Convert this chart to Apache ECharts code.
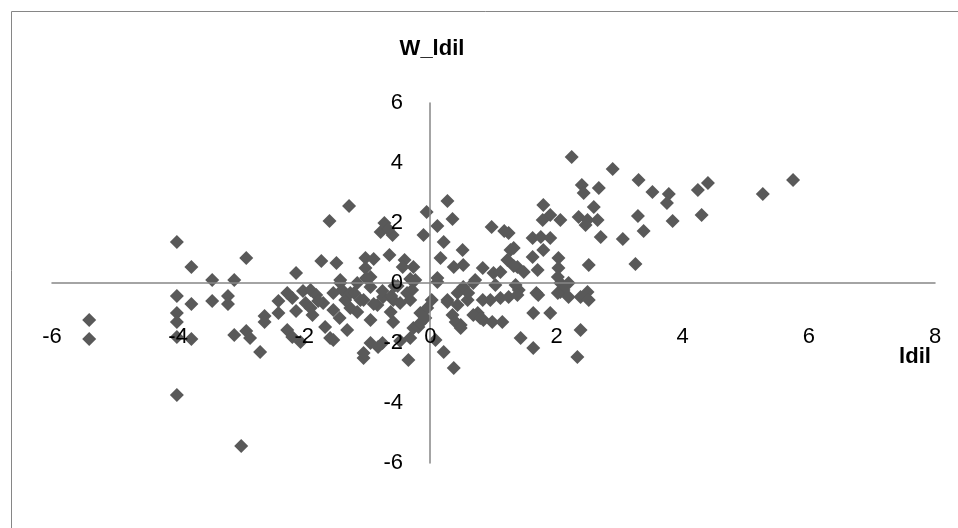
<!DOCTYPE html>
<html>
<head>
<meta charset="utf-8">
<title>W_ldil vs ldil</title>
<script src="https://cdn.jsdelivr.net/npm/echarts@6/dist/echarts.min.js"></script>
<style>
  html, body { margin: 0; padding: 0; background: #fff; }
  #chart { width: 958px; height: 528px; }
</style>
</head>
<body>
<div id="chart"></div>
<script>
// tick labels
var xTicks = [-6, -4, -2, 0, 2, 4, 6, 8];
var yTicks = [-6, -4, -2, 0, 2, 4, 6];

// [ldil, W_ldil]
var points = [
  [-5.41, -1.23], [-5.41, -1.87], [-4.02, 1.37], [-3.79, 0.53], [-3.46, 0.10],
  [-3.11, 0.10], [-2.92, 0.83], [-4.02, -0.43], [-3.79, -0.70], [-3.46, -0.60],
  [-3.21, -0.43], [-3.21, -0.70], [-4.02, -1.00], [-4.02, -1.30], [-4.02, -1.80],
  [-3.79, -1.87], [-3.11, -1.73], [-2.92, -1.60], [-2.86, -1.83], [-2.70, -2.30],
  [-4.02, -3.73], [-3.00, -5.43],
  [-2.63, -1.10], [-2.63, -1.30], [-2.41, -0.60], [-2.41, -1.00], [-2.19, -0.50],
  [-2.13, 0.33], [-2.02, -0.27], [-1.90, -0.23], [-1.98, -0.67], [-1.90, -0.83],
  [-1.87, -1.07], [-2.27, -1.57], [-2.19, -1.80], [-2.06, -1.97], [-1.67, -1.47],
  [-1.59, -1.83], [-1.32, -1.57], [-1.73, 0.73], [-1.49, 0.67], [-1.60, 2.07],
  [-1.29, 2.57], [-1.54, -0.33], [-1.40, -0.23], [-1.70, -0.67], [-1.54, -0.90],
  [-1.27, -0.83], [-1.16, -0.97], [-1.43, 0.10], [-1.81, -0.40], [-1.35, -0.57],
  [-0.73, 2.00], [-0.79, 1.70], [-0.60, 1.60], [-0.67, 1.80], [-0.06, 2.37],
  [-0.11, 1.60], [-0.65, 0.93], [-1.03, 0.83], [-0.90, 0.80], [-1.03, 0.50],
  [-0.41, 0.77], [-0.27, 0.53], [-0.44, 0.53], [-0.95, 0.20], [-0.32, 0.13],
  [-1.02, 0.17], [-1.16, 0.00], [-1.43, 0.00], [-1.27, -0.33], [-0.95, -0.13],
  [-0.95, -1.23], [-0.59, -1.30], [-1.54, -1.90], [-0.95, -2.00], [-0.76, -2.00],
  [-1.06, -2.50], [-1.06, -2.33], [-0.35, -2.57], [-0.32, -1.83], [-0.27, -1.50],
  [-0.19, -1.47], [-0.16, -1.00], [-0.05, -0.83], [-0.75, -0.47], [-0.59, -0.57],
  [-0.37, -0.33], [-0.29, -0.23], [-0.48, -0.67], [-0.32, -0.57], [-0.52, -0.10],
  [-0.24, 0.10], [-0.48, -1.93], [-0.16, -1.33], [-0.83, -2.13], [-1.06, -0.57],
  [-0.84, -0.73], [-0.63, -0.97],
  [0.27, 2.73], [0.35, 2.13], [0.11, 1.90], [0.21, 1.37], [0.51, 1.10],
  [0.16, 0.83], [0.37, 0.53], [0.52, 0.60], [0.83, 0.50], [0.97, 1.87],
  [0.71, 0.10], [0.11, 0.17], [0.11, 0.03], [0.08, -1.90], [0.21, -2.30],
  [0.37, -2.83], [0.27, -0.57], [0.43, -0.33], [0.59, -0.57], [0.52, -0.13],
  [0.68, 0.00], [0.48, -1.40], [0.75, -1.00], [0.84, -1.23], [1.24, 1.67],
  [1.03, -0.07], [1.35, -0.07], [1.40, -0.23], [1.00, 0.33], [1.11, 0.37],
  [1.22, 0.77], [1.38, 0.53], [1.48, 0.37], [1.32, 1.17], [1.62, 0.87],
  [1.70, 0.43], [1.62, 1.50], [1.75, 1.53], [1.90, 1.50], [1.79, 1.10],
  [1.79, 2.60], [1.90, 2.27], [1.78, 2.10], [2.06, 2.10], [2.35, 2.20],
  [2.46, 1.93], [2.59, 2.53], [2.65, 2.10], [2.03, 0.83], [2.03, 0.50],
  [2.02, 0.20], [2.06, 0.00], [2.19, 0.00], [2.51, 0.60], [1.68, -0.33],
  [2.38, -0.47], [2.49, -0.30], [0.60, -0.33], [0.27, -0.63], [0.43, -0.73],
  [0.35, -1.07], [0.40, -1.30], [0.48, -1.50], [0.68, -1.07], [0.79, -1.17],
  [0.98, -1.30], [1.14, -1.30], [0.83, -0.57], [0.95, -0.57], [1.11, -0.50],
  [1.24, -0.47], [1.38, -0.40], [1.71, -0.40], [1.63, -1.00], [1.90, -1.00],
  [1.43, -1.83], [1.63, -2.17], [2.06, -0.30], [2.19, -0.47], [2.51, -0.57],
  [2.38, -1.57], [2.33, -2.47],
  [2.24, 4.20], [2.89, 3.80], [2.40, 3.27], [2.43, 3.00], [2.67, 3.17],
  [3.30, 3.43], [3.52, 3.03], [3.78, 2.97], [3.75, 2.67], [4.24, 3.10],
  [4.40, 3.33], [2.49, 2.10], [3.29, 2.23], [3.84, 2.07], [4.30, 2.27],
  [2.70, 1.53], [3.05, 1.47], [3.38, 1.73], [3.25, 0.63], [2.11, -0.23],
  [2.02, -0.33], [5.27, 2.97], [5.75, 3.43],
  [1.27, 1.10], [1.17, 1.73], [1.32, 0.57],
  [-1.78, -0.60], [-1.44, -1.17], [-1.21, -0.33], [-1.11, -0.57], [-0.90, -0.70],
  [-0.76, -0.27], [-0.62, -0.43], [-0.57, -0.10], [-2.27, -0.33], [-2.13, -0.93],
  [-0.08, -1.17], [0.02, -0.57]
];

var chart = echarts.init(document.getElementById('chart'));

var labelFont = { fontFamily: 'Liberation Sans', fontSize: 22, color: '#000' };
var axisLineStyle = { color: '#868686', width: 1.5 };

// grid box: x -6..8 over 883px, y -6..6 over 360px
// axes sit on the zero lines, so push them inward with a negative offset
// z above the series so the tick labels stay on top of the diamonds
var option = {
  animation: false,
  backgroundColor: '#fff',
  grid: { left: 52, right: 23, top: 103, bottom: 65 },
  xAxis: {
    type: 'value',
    position: 'bottom',
    offset: -180,
    z: 5,
    min: xTicks[0],
    max: xTicks[xTicks.length - 1],
    interval: 2,
    axisLine: { onZero: false, lineStyle: axisLineStyle },
    axisTick: { show: false },
    splitLine: { show: false },
    axisLabel: Object.assign({ margin: 43 }, labelFont)
  },
  yAxis: {
    type: 'value',
    position: 'left',
    offset: -378,
    z: 5,
    min: yTicks[0],
    max: yTicks[yTicks.length - 1],
    interval: 2,
    axisLine: { show: true, onZero: false, lineStyle: axisLineStyle },
    axisTick: { show: false },
    splitLine: { show: false },
    axisLabel: Object.assign({ margin: 27 }, labelFont)
  },
  graphic: [
    {
      type: 'rect',
      left: 9, top: 9,
      shape: { width: 960, height: 530 },
      style: { fill: 'none', stroke: '#868686', lineWidth: 1 },
      silent: true
    },
    {
      type: 'text',
      x: 432, y: 49,
      style: {
        text: 'W_ldil', fontFamily: 'Liberation Sans', fontSize: 22, fontWeight: 'bold',
        fill: '#000', textAlign: 'center', textVerticalAlign: 'middle'
      }
    },
    {
      type: 'text',
      x: 915, y: 357,
      z: 10,
      style: {
        text: 'ldil', fontFamily: 'Liberation Sans', fontSize: 22, fontWeight: 'bold',
        fill: '#000', textAlign: 'center', textVerticalAlign: 'middle'
      }
    }
  ],
  series: [
    {
      name: 'W_ldil',
      type: 'scatter',
      symbol: 'diamond',
      symbolSize: 14,
      itemStyle: { color: '#595959', opacity: 1 },
      data: points
    }
  ]
};

chart.setOption(option);
</script>
</body>
</html>
